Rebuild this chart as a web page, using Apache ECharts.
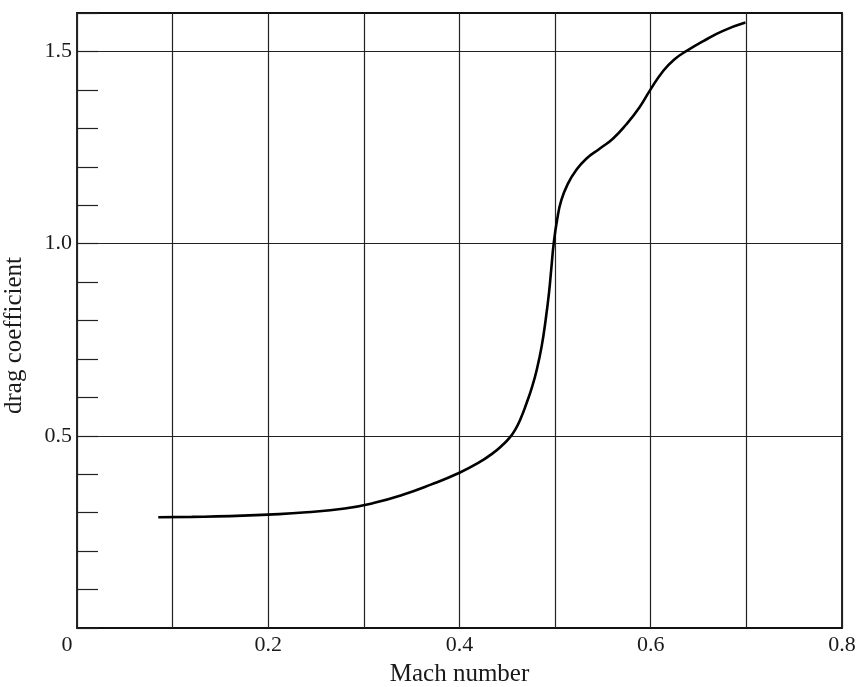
<!DOCTYPE html>
<html>
<head>
<meta charset="utf-8">
<script src="https://cdn.jsdelivr.net/npm/echarts@6/dist/echarts.min.js"></script>
<style>
  html, body { margin: 0; padding: 0; background: #fff; }
  #chart { width: 859px; height: 687px; }
</style>
</head>
<body>
<div id="chart"></div>
<script>
// Drag coefficient versus Mach number
const machNumbers = [0.085, 0.12, 0.16, 0.20, 0.24, 0.28, 0.31, 0.34, 0.37, 0.40, 0.42,
                     0.435, 0.445, 0.452, 0.458, 0.464, 0.470, 0.476, 0.481, 0.486, 0.490,
                     0.4935, 0.496, 0.4985, 0.502, 0.5065, 0.5134, 0.522, 0.5326, 0.5465,
                     0.5604, 0.5743, 0.5883, 0.600, 0.612, 0.624, 0.638, 0.655, 0.675, 0.699];
const dragCoefficients = [0.288, 0.289, 0.291, 0.295, 0.301, 0.311, 0.325, 0.346, 0.373, 0.404, 0.430,
                          0.455, 0.476, 0.494, 0.515, 0.545, 0.584, 0.628, 0.674, 0.734, 0.800,
                          0.870, 0.935, 1.000, 1.061, 1.113, 1.156, 1.191, 1.221, 1.247,
                          1.273, 1.310, 1.355, 1.402, 1.446, 1.478, 1.502, 1.527, 1.553, 1.575];
const xTickLabels = ['0', '0.2', '0.4', '0.6', '0.8'];
const yTickLabels = ['0.5', '1.0', '1.5'];

const serif = '"Liberation Serif", "DejaVu Serif", serif';
const points = machNumbers.map((m, i) => [m, dragCoefficients[i]]);
const ink = '#1a1a1a';

const chart = echarts.init(document.getElementById('chart'));
chart.setOption({
  backgroundColor: '#fff',
  animation: false,
  grid: {
    left: 77, right: 17, top: 13, bottom: 59,
    outerBoundsMode: 'none',
    containLabel: false,
    show: true, borderColor: '#111', borderWidth: 1.8
  },
  xAxis: {
    type: 'value', min: 0, max: 0.8, interval: 0.1,
    name: 'Mach number', nameLocation: 'middle', nameGap: 34,
    nameTextStyle: { fontFamily: serif, fontSize: 25, color: ink },
    axisLine: { show: false },
    axisTick: { show: false },
    splitLine: { show: true, lineStyle: { color: '#222', width: 1.2 } },
    axisLabel: {
      margin: 6, fontFamily: serif, fontSize: 22, color: ink,
      formatter: v => {
        const s = (Math.round(v * 10) / 10).toString();
        if (!xTickLabels.includes(s)) return '';
        return s === '0' ? '{z|0}' : s;
      },
      rich: { z: { fontFamily: serif, fontSize: 22, color: ink, padding: [0, 20, 0, 0] } }
    }
  },
  yAxis: {
    type: 'value', min: 0, max: 1.6, interval: 0.1,
    name: 'drag coefficient', nameLocation: 'middle', nameGap: 50, nameRotate: 90,
    nameTextStyle: { fontFamily: serif, fontSize: 25, color: ink, padding: [0, 30, 0, 0] },
    axisLine: { show: false },
    axisTick: { show: true, inside: true, length: 21, lineStyle: { color: '#222', width: 1.2 } },
    splitLine: {
      show: true,
      lineStyle: {
        color: ['transparent', 'transparent', 'transparent', 'transparent', 'transparent', '#222',
                'transparent', 'transparent', 'transparent', 'transparent', '#222',
                'transparent', 'transparent', 'transparent', 'transparent', '#222', 'transparent'],
        width: 1.2
      }
    },
    axisLabel: {
      margin: 5, fontFamily: serif, fontSize: 22, color: ink,
      formatter: v => {
        const s = v.toFixed(1);
        return yTickLabels.includes(s) ? s : '';
      }
    }
  },
  series: [{
    type: 'line',
    data: points,
    smooth: 0.5,
    symbol: 'none',
    lineStyle: { color: '#000', width: 2.6 }
  }]
});
</script>
</body>
</html>
